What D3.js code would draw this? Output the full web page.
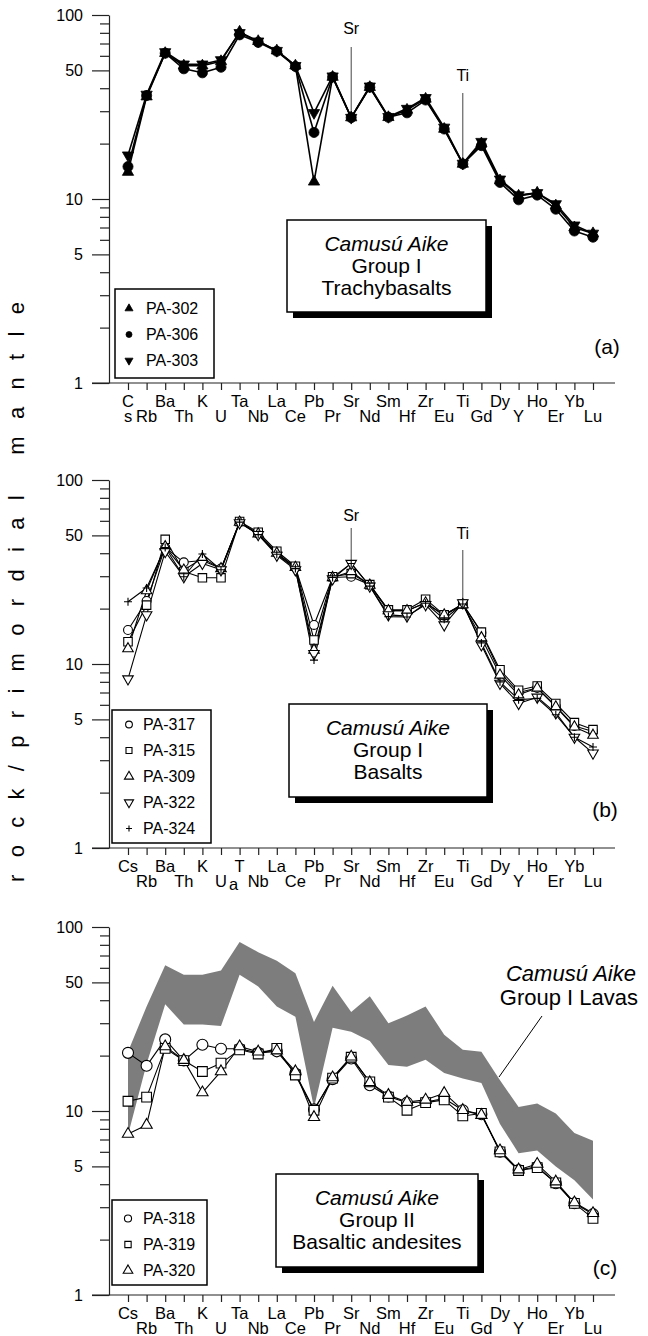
<!DOCTYPE html>
<html>
<head>
<meta charset="utf-8">
<script src="https://cdn.jsdelivr.net/npm/d3@7"></script>
<style>
  body { margin: 0; background: #fff; }
  svg { display: block; }
  text { font-family: "Liberation Sans", Arial, Helvetica, sans-serif; fill: #000; }
</style>
</head>
<body>
<div id="chart"></div>
<script>
// element order along the x axis
var elements = ["Cs","Rb","Ba","Th","K","U","Ta","Nb","La","Ce","Pb","Pr","Sr","Nd","Sm","Hf","Zr","Eu","Ti","Gd","Dy","Y","Ho","Er","Yb","Lu"];
var yTicksMajor = [1, 5, 10, 50, 100];
var yTicksMinor = [2, 3, 4, 6, 7, 8, 9, 20, 30, 40, 60, 70, 80, 90];

// (a) Group I trachybasalts
var pa302 = [14, 36, 62, 53, 53, 56, 81, 72, 64, 53, 12.4, 46, 27.7, 40.5, 27.8, 30.5, 35, 24, 15.5, 20, 12.6, 10.4, 10.8, 9.2, 7.0, 6.5];
var pa306 = [15, 36.5, 62, 51, 48.5, 52, 78, 71, 63.5, 52.5, 23, 46, 27.7, 40.5, 27.8, 29.4, 34.5, 24, 15.5, 19.5, 12.3, 9.9, 10.5, 8.8, 6.7, 6.2];
var pa303 = [17.3, 37, 63, 54, 54, 57, 80, 72, 64, 53, 29.4, 46.5, 27.7, 41, 28, 31, 35.5, 24.5, 15.6, 20.5, 12.8, 10.5, 10.8, 9.4, 7.2, 6.5];

// (b) Group I basalts
var pa317 = [15.3, 22, 43, 35.7, 36.5, 33, 59, 51, 40, 33.5, 16.3, 29.5, 29.8, 27, 19.5, 19.5, 21.5, 18.3, 21.2, 14.8, 9, 7, 7.4, 5.9, 4.6, 4.3];
var pa315 = [13.2, 20.9, 47.6, 31.8, 29.4, 29.4, 59.5, 52, 41, 34, 13.5, 29.8, 31, 27, 19.7, 19.7, 22.5, 18.5, 21.2, 14.9, 9.3, 7.2, 7.6, 6.1, 4.8, 4.4];
var pa309 = [12.1, 25, 43.4, 32.4, 37.5, 33, 59, 51, 40, 33.5, 11.9, 29.5, 31.8, 26.8, 19.5, 19.5, 21.5, 18.5, 21, 13.9, 8.7, 6.8, 7.4, 5.85, 4.55, 4.1];
var pa322 = [8.3, 18.5, 40.8, 29.8, 35.2, 32.5, 58.5, 50.5, 39, 32.5, 11.4, 29, 35.2, 26.5, 18.5, 18.2, 21, 16.3, 21.5, 12.7, 7.85, 6.1, 6.6, 5.42, 4.0, 3.28];
var pa324 = [21.8, 25.9, 43, 29.8, 39.6, 32.5, 59, 50.5, 39.5, 33, 10.5, 29.5, 35.2, 26.5, 18.1, 18, 21.4, 17.5, 21.2, 13, 8, 6.4, 6.5, 5.3, 4.0, 3.54];

// (c) Group II basaltic andesites
var pa318 = [20.7, 17.6, 24.5, 18.8, 22.9, 21.8, 21.8, 20.7, 21.1, 16, 10.2, 14.9, 19.3, 13.8, 12, 11.1, 11.2, 11.7, 10.1, 9.6, 6.0, 4.78, 4.98, 4.05, 3.15, 2.75];
var pa319 = [11.3, 11.9, 21.9, 18.8, 16.4, 18.2, 21.5, 20.4, 21.9, 15.7, 10.1, 15.1, 19.6, 14.4, 11.9, 10.1, 11.1, 11.5, 9.4, 9.7, 6.0, 4.75, 4.92, 4.07, 3.15, 2.61];
var pa320 = [7.5, 8.4, 22.4, 18.9, 12.6, 16.4, 22.4, 21, 21.3, 16.4, 9.25, 15.2, 19.7, 14.3, 12.2, 11.2, 11.5, 12.5, 10.1, 9.5, 6.1, 4.8, 5.15, 4.13, 3.18, 2.78];

// envelope of the Group I lavas (grey field in c)
var lavasUpper = [21, 37, 62, 55, 55, 58, 83, 73, 65.5, 56, 30.5, 48, 34.5, 42, 30, 33, 37, 26, 21.5, 21, 14.7, 10.5, 11, 9.7, 7.6, 6.9];
var lavasLower = [7.4, 18, 38, 29.5, 29.5, 29, 55, 47.5, 37, 32.5, 10.4, 28.3, 27, 24, 17.8, 17.4, 19, 16.1, 15, 14.2, 8.5, 5.9, 6.1, 5.0, 4.2, 3.3];

var width = 648, height = 1336, panelH = 368;
var axisX = 109;

var svg = d3.select("#chart").append("svg")
    .attr("width", width)
    .attr("height", height);

var x = d3.scalePoint().domain(elements).range([128, 593]);

// marker shapes
function markerPath(type, size) {
    if (type == "plus") {
        var h = Math.sqrt(size) / 2;
        return "M" + (-h) + ",0H" + h + "M0," + (-h) + "V" + h;
    }
    if (type == "down") return d3.symbol(d3.symbolTriangle, size)();
    var t = { circle: d3.symbolCircle, square: d3.symbolSquare, up: d3.symbolTriangle }[type];
    return d3.symbol(t, size)();
}
function drawMarker(g, type, size, filled, cx, cy) {
    g.append("path")
        .attr("d", markerPath(type, size))
        .attr("transform", "translate(" + cx + "," + cy + ")" + (type == "down" ? " rotate(180)" : ""))
        .attr("fill", type == "plus" ? "none" : (filled ? "#000" : "#fff"))
        .attr("stroke", "#000")
        .attr("stroke-width", filled ? 0.8 : 1.1);
}

var panels = [
    {
        top: 15,
        series: [
            { name: "PA-302", values: pa302, type: "up", size: 55 },
            { name: "PA-306", values: pa306, type: "circle", size: 80 },
            { name: "PA-303", values: pa303, type: "down", size: 55 }
        ],
        filled: true, lineWidth: 1.6,
        legend: { x: 115, y: 289, w: 99, h: 89, rowY: 314, step: 26, mx: 129, tx: 146, size: 28 },
        box: { x: 287, y: 220, w: 199, h: 92, lines: ["Camusú Aike", "Group I", "Trachybasalts"] },
        tag: { text: "(a)", x: 607, y: 354 },
        pointers: [{ el: "Sr", ty: 34, y0: 47 }, { el: "Ti", ty: 81, y0: 93 }],
        labels: "a"
    },
    {
        top: 480,
        series: [
            { name: "PA-317", values: pa317, type: "circle", size: 62 },
            { name: "PA-315", values: pa315, type: "square", size: 72 },
            { name: "PA-309", values: pa309, type: "up", size: 48 },
            { name: "PA-322", values: pa322, type: "down", size: 48 },
            { name: "PA-324", values: pa324, type: "plus", size: 64 }
        ],
        filled: false, lineWidth: 1.1,
        legend: { x: 112, y: 710, w: 99, h: 133, rowY: 730, step: 26, mx: 129, tx: 143, size: 36 },
        box: { x: 289, y: 704, w: 198, h: 93, lines: ["Camusú Aike", "Group I", "Basalts"] },
        tag: { text: "(b)", x: 605, y: 817 },
        pointers: [{ el: "Sr", ty: 521, y0: 528 }, { el: "Ti", ty: 539, y0: 550 }],
        labels: "b"
    },
    {
        top: 927,
        series: [
            { name: "PA-318", values: pa318, type: "circle", size: 95 },
            { name: "PA-319", values: pa319, type: "square", size: 95 },
            { name: "PA-320", values: pa320, type: "up", size: 55 }
        ],
        filled: false, lineWidth: 1.1,
        band: { upper: lavasUpper, lower: lavasLower },
        legend: { x: 112, y: 1200, w: 95, h: 85, rowY: 1224, step: 26, mx: 128, tx: 143, size: 40 },
        box: { x: 276, y: 1174, w: 202, h: 93, lines: ["Camusú Aike", "Group II", "Basaltic andesites"] },
        tag: { text: "(c)", x: 605, y: 1275 },
        pointers: [],
        labels: "c"
    }
];

panels.forEach(function (p) {
    var bottom = p.top + panelH;
    var y = d3.scaleLog().domain([1, 100]).range([bottom, p.top]);
    var g = svg.append("g");

    // grey field of group I lavas
    if (p.band) {
        g.append("path")
            .datum(elements)
            .attr("fill", "#7d7d7d")
            .attr("d", d3.area()
                .x(function (d) { return x(d); })
                .y0(function (d, i) { return y(p.band.lower[i]); })
                .y1(function (d, i) { return y(p.band.upper[i]); }));
    }

    // y axis: major ticks with labels, then minor ones
    g.append("g")
        .attr("transform", "translate(" + axisX + ",0)")
        .call(d3.axisLeft(y).tickValues(yTicksMajor).tickSize(17).tickSizeOuter(0).tickPadding(9).tickFormat(d3.format("d")))
        .call(function (a) {
            a.attr("font-family", null).attr("font-size", 16);
            a.selectAll("path, line").attr("stroke", "#222").attr("stroke-width", 1.2);
        });
    g.append("g")
        .attr("transform", "translate(" + axisX + ",0)")
        .call(d3.axisLeft(y).tickValues(yTicksMinor).tickSize(9).tickSizeOuter(0).tickFormat(""))
        .call(function (a) {
            a.select(".domain").remove();
            a.selectAll("line").attr("stroke", "#222").attr("stroke-width", 1.2);
        });

    // x axis baseline and element ticks
    g.append("line")
        .attr("x1", 92).attr("x2", 615)
        .attr("y1", bottom).attr("y2", bottom)
        .attr("stroke", "#222").attr("stroke-width", 1.2);
    g.append("g")
        .attr("transform", "translate(0," + bottom + ")")
        .call(d3.axisBottom(x).tickSize(7).tickSizeOuter(0).tickFormat(""))
        .call(function (a) {
            a.select(".domain").remove();
            a.selectAll("line").attr("stroke", "#222").attr("stroke-width", 1.2);
        });

    // element labels, alternating in two rows
    elements.forEach(function (el, i) {
        var row = i % 2;
        var txt = el;
        if (p.labels == "a" && el == "Cs") {
            txt = "C";
            g.append("text").attr("x", x(el)).attr("y", bottom + 39)
                .attr("text-anchor", "middle").attr("font-size", 16.5).text("s");
        }
        if (p.labels == "b" && el == "Ta") {
            txt = "T";
            g.append("text").attr("x", x(el) - 6).attr("y", bottom + 42)
                .attr("text-anchor", "middle").attr("font-size", 16.5).text("a");
        }
        g.append("text")
            .attr("x", x(el))
            .attr("y", bottom + (row ? 39 : 24))
            .attr("text-anchor", "middle")
            .attr("font-size", 16.5)
            .text(txt);
    });

    // pointers for Sr and Ti anomalies
    p.pointers.forEach(function (pt) {
        var i = elements.indexOf(pt.el);
        var top = d3.max(p.series, function (s) { return s.values[i]; });
        g.append("text").attr("x", x(pt.el)).attr("y", pt.ty)
            .attr("text-anchor", "middle").attr("font-size", 16).text(pt.el);
        g.append("line")
            .attr("x1", x(pt.el)).attr("x2", x(pt.el))
            .attr("y1", pt.y0).attr("y2", y(top) - 4)
            .attr("stroke", "#444").attr("stroke-width", 1);
    });

    // series lines
    p.series.forEach(function (s) {
        g.append("path")
            .datum(s.values)
            .attr("fill", "none")
            .attr("stroke", "#000")
            .attr("stroke-width", p.lineWidth)
            .attr("stroke-linejoin", "round")
            .attr("d", d3.line()
                .x(function (d, i) { return x(elements[i]); })
                .y(function (d) { return y(d); }));
    });
    // series markers
    p.series.forEach(function (s) {
        s.values.forEach(function (v, i) {
            drawMarker(g, s.type, s.size, p.filled, x(elements[i]), y(v));
        });
    });

    // legend
    var L = p.legend;
    g.append("rect")
        .attr("x", L.x).attr("y", L.y).attr("width", L.w).attr("height", L.h)
        .attr("fill", "#fff").attr("stroke", "#000").attr("stroke-width", 1.5);
    p.series.forEach(function (s, k) {
        var ry = L.rowY + k * L.step;
        drawMarker(g, s.type, L.size, p.filled, L.mx, ry - 5.5);
        g.append("text").attr("x", L.tx).attr("y", ry).attr("font-size", 16).text(s.name);
    });

    // boxed title with drop shadow
    var B = p.box;
    g.append("rect")
        .attr("x", B.x + 6).attr("y", B.y + 6).attr("width", B.w).attr("height", B.h)
        .attr("fill", "#000");
    g.append("rect")
        .attr("x", B.x).attr("y", B.y).attr("width", B.w).attr("height", B.h)
        .attr("fill", "#fff").attr("stroke", "#000").attr("stroke-width", 1.5);
    B.lines.forEach(function (t, k) {
        g.append("text")
            .attr("x", B.x + B.w / 2)
            .attr("y", B.y + 31 + k * 22)
            .attr("text-anchor", "middle")
            .attr("font-size", 21)
            .attr("font-style", k == 0 ? "italic" : "normal")
            .text(t);
    });

    g.append("text")
        .attr("x", p.tag.x).attr("y", p.tag.y)
        .attr("text-anchor", "middle").attr("font-size", 21)
        .text(p.tag.text);
});

// label of the grey field in (c)
svg.append("text").attr("x", 636).attr("y", 981)
    .attr("text-anchor", "end").attr("font-size", 22).attr("font-style", "italic")
    .text("Camusú Aike");
svg.append("text").attr("x", 638).attr("y", 1005)
    .attr("text-anchor", "end").attr("font-size", 22)
    .text("Group I Lavas");
svg.append("line")
    .attr("x1", 542).attr("y1", 1016).attr("x2", 499).attr("y2", 1077)
    .attr("stroke", "#000").attr("stroke-width", 1);

// shared y axis title
svg.append("text")
    .attr("transform", "translate(24,592) rotate(-90)")
    .attr("text-anchor", "middle")
    .attr("font-size", 22)
    .attr("textLength", 580)
    .attr("lengthAdjust", "spacing")
    .text("rock/primordial mantle");
</script>
</body>
</html>
